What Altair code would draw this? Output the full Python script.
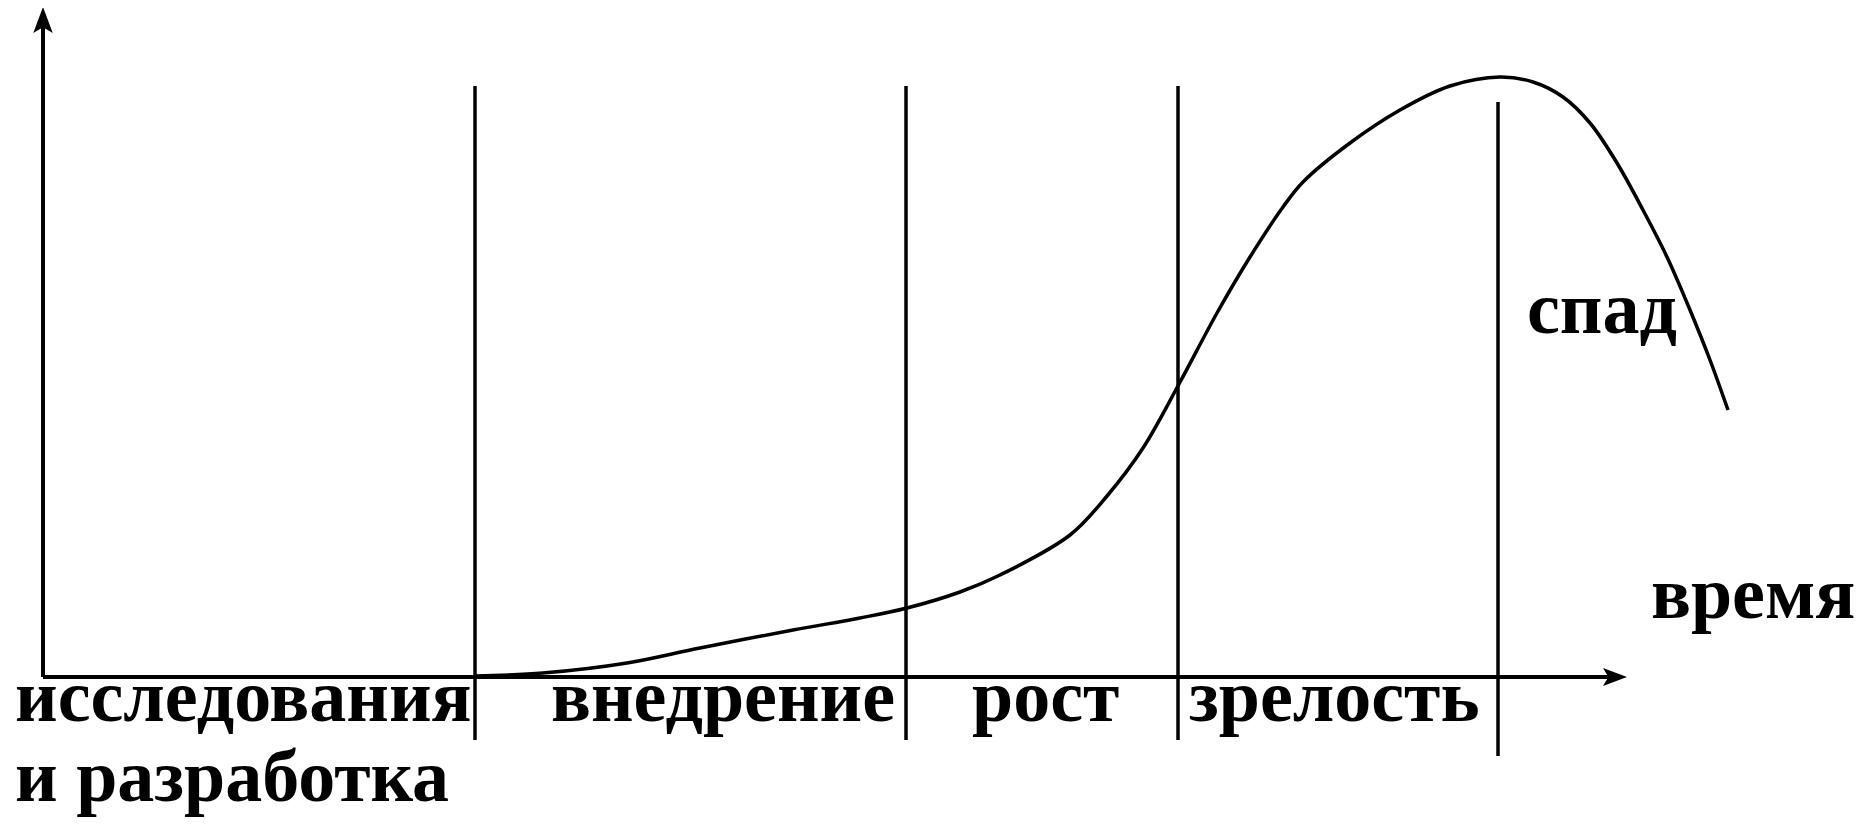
import altair as alt
import pandas as pd

# Product life cycle curve (time units, sales units)
curve_t = [43.2, 50.0, 58.4, 65.7, 75.0, 81.7, 86.4, 91.7, 95.7, 102.7, 106.4, 110.0,
           113.6, 117.4, 120.7, 124.0, 126.0, 130.7, 135.7, 140.7, 145.7, 149.0, 152.0,
           154.7, 157.4, 160.0, 162.4, 164.7, 166.7, 168.5]
curve_s = [0.1, 0.4, 1.4, 2.9, 4.7, 5.9, 6.9, 8.5, 10.2, 14.2, 18.1, 22.9,
           29.3, 36.4, 42.0, 47.0, 49.5, 53.4, 56.7, 59.1, 60.0, 59.5, 58.0,
           55.4, 51.4, 46.7, 42.0, 36.7, 31.7, 26.7]

# Stage boundaries
stage_t = [43.2, 86.3, 113.5, 145.5]
stage_top = [59.1, 59.1, 59.1, 57.5]
stage_bottom = [-6.3, -6.3, -6.3, -7.9]

# Axis extents
yaxis_top = 65.0
xaxis_end = 157.0
arrow_t = [0.0, 157.2]
arrow_s = [65.7, 0.0]
arrow_angle = [0, 90]
arrow_size = [676, 576]

# Labels
labels = ["исследования", "и разработка", "внедрение", "рост", "зрелость", "спад", "время"]
label_t = [-2.8, -2.8, 50.8, 92.9, 114.6, 148.4, 160.8]
label_s = [-4.4, -12.4, -4.4, -4.4, -4.4, 34.4, 5.9]

xs = alt.Scale(domain=[-3.5, 181.9], nice=False, zero=False)
ys = alt.Scale(domain=[-14.2, 66.9], nice=False, zero=False)

curve_df = pd.DataFrame({"t": curve_t, "s": curve_s})
stage_df = pd.DataFrame({"t": stage_t, "top": stage_top, "bottom": stage_bottom})
yaxis_df = pd.DataFrame({"t": [0.0], "s0": [0.0], "s1": [yaxis_top]})
xaxis_df = pd.DataFrame({"t0": [0.0], "t1": [xaxis_end], "s": [0.0]})
arrow_df = pd.DataFrame({"t": arrow_t, "s": arrow_s, "a": arrow_angle, "z": arrow_size})
label_df = pd.DataFrame({"t": label_t, "s": label_s, "label": labels})

curve = alt.Chart(curve_df).mark_line(
    interpolate="catmull-rom", color="black", strokeWidth=3.5
).encode(
    x=alt.X("t:Q", scale=xs, axis=None),
    y=alt.Y("s:Q", scale=ys, axis=None),
    order="t:Q",
)

stages = alt.Chart(stage_df).mark_rule(color="black", strokeWidth=3.5).encode(
    x=alt.X("t:Q", scale=xs, axis=None),
    y=alt.Y("top:Q", scale=ys, axis=None),
    y2="bottom:Q",
)

yaxis = alt.Chart(yaxis_df).mark_rule(color="black", strokeWidth=4).encode(
    x=alt.X("t:Q", scale=xs, axis=None),
    y=alt.Y("s0:Q", scale=ys, axis=None),
    y2="s1:Q",
)

xaxis = alt.Chart(xaxis_df).mark_rule(color="black", strokeWidth=4).encode(
    x=alt.X("t0:Q", scale=xs, axis=None),
    x2="t1:Q",
    y=alt.Y("s:Q", scale=ys, axis=None),
)

arrows = alt.Chart(arrow_df).mark_point(
    shape="M0,-1L0.75,1L0,0.55L-0.75,1Z", filled=True, color="black", opacity=1
).encode(
    x=alt.X("t:Q", scale=xs, axis=None),
    y=alt.Y("s:Q", scale=ys, axis=None),
    angle=alt.Angle("a:Q", scale=None),
    size=alt.Size("z:Q", scale=None, legend=None),
)

texts = alt.Chart(label_df).mark_text(
    align="left", baseline="alphabetic", font="Liberation Serif",
    fontWeight="bold", fontSize=74, color="black"
).encode(
    x=alt.X("t:Q", scale=xs, axis=None),
    y=alt.Y("s:Q", scale=ys, axis=None),
    text="label:N",
)

chart = alt.layer(curve, stages, yaxis, xaxis, arrows, texts).properties(
    width=1854, height=811, autosize="none", padding=0, background="white"
).configure_view(stroke=None)

chart.save("out.html", embed_options={"renderer": "svg", "actions": False})
